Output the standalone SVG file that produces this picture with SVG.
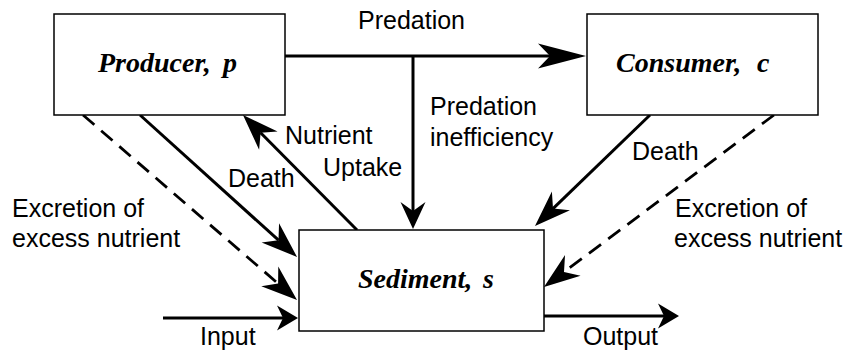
<svg xmlns="http://www.w3.org/2000/svg" width="853" height="354" viewBox="0 0 853 354">
<style>
.box{fill:#fff;stroke:#000;stroke-width:1.5}
.lbl{font-family:"Liberation Serif","Times New Roman",serif;font-weight:bold;font-style:italic;font-size:28px;fill:#000}
.txt{font-family:"Liberation Sans",Arial,Helvetica,sans-serif;font-size:25px;fill:#000}
.ln{fill:none;stroke:#000;stroke-width:3}
.dash{fill:none;stroke:#000;stroke-width:2.8;stroke-dasharray:15 9}
.head{fill:#000;stroke:none}
</style>
<defs>
<marker id="big" markerUnits="userSpaceOnUse" orient="auto" refX="0" refY="0" markerWidth="60" markerHeight="30" overflow="visible"><path class="head" d="M36,0 L-12,-12.5 L0,0 L-12,12.5 Z"/></marker>
<marker id="mid" markerUnits="userSpaceOnUse" orient="auto" refX="0" refY="0" markerWidth="40" markerHeight="30" overflow="visible"><path class="head" d="M25,0 L-11,-13 L0,0 L-11,13 Z"/></marker>
<marker id="vert" markerUnits="userSpaceOnUse" orient="auto" refX="0" refY="0" markerWidth="30" markerHeight="30" overflow="visible"><path class="head" d="M18,0 L-9,-12.5 L0,0 L-9,12.5 Z"/></marker>
<marker id="small" markerUnits="userSpaceOnUse" orient="auto" refX="0" refY="0" markerWidth="30" markerHeight="30" overflow="visible"><path class="head" d="M15,0 L-6,-12.5 L0,0 L-6,12.5 Z"/></marker>
</defs>
<g id="connectors">
<line class="ln" x1="285" y1="56" x2="550" y2="56" marker-end="url(#big)"/>
<line class="ln" x1="413" y1="56" x2="413" y2="211" marker-end="url(#vert)"/>
<line class="ln" x1="357" y1="230" x2="260.6" y2="132.8" marker-end="url(#mid)"/>
<line class="ln" x1="140" y1="115" x2="278.5" y2="240.2" marker-end="url(#mid)"/>
<line class="dash" x1="83" y1="115" x2="278.1" y2="283.6" marker-end="url(#mid)"/>
<line class="ln" x1="163" y1="318" x2="283" y2="318" marker-end="url(#small)"/>
<line class="ln" x1="650" y1="115" x2="553" y2="208.6" marker-end="url(#mid)"/>
<line class="dash" x1="774" y1="115" x2="564" y2="272" marker-end="url(#mid)"/>
<line class="ln" x1="544" y1="316" x2="664" y2="316" marker-end="url(#small)"/>
<text class="txt" x="358" y="29">Predation</text>
<text class="txt" x="430" y="115">Predation</text>
<text class="txt" x="430" y="146">inefficiency</text>
<text class="txt" x="285" y="144">Nutrient</text>
<text class="txt" x="323" y="176">Uptake</text>
<text class="txt" x="228" y="187">Death</text>
<text class="txt" x="632" y="160">Death</text>
<text class="txt" x="12" y="217">Excretion of</text>
<text class="txt" x="12" y="247">excess nutrient</text>
<text class="txt" x="675" y="217">Excretion of</text>
<text class="txt" x="674" y="247">excess nutrient</text>
<text class="txt" x="200" y="345">Input</text>
<text class="txt" x="583" y="345">Output</text>
</g>
<g id="producer">
<rect class="box" x="54" y="14" width="231" height="101"/>
<text class="lbl" y="72"><tspan x="98">Producer,</tspan><tspan x="223">p</tspan></text>
</g>
<g id="consumer">
<rect class="box" x="587" y="14" width="231" height="101"/>
<text class="lbl" y="72"><tspan x="616">Consumer,</tspan><tspan x="757">c</tspan></text>
</g>
<g id="sediment">
<rect class="box" x="299" y="230" width="245" height="101"/>
<text class="lbl" y="288"><tspan x="358">Sediment,</tspan><tspan x="483">s</tspan></text>
</g>
</svg>
